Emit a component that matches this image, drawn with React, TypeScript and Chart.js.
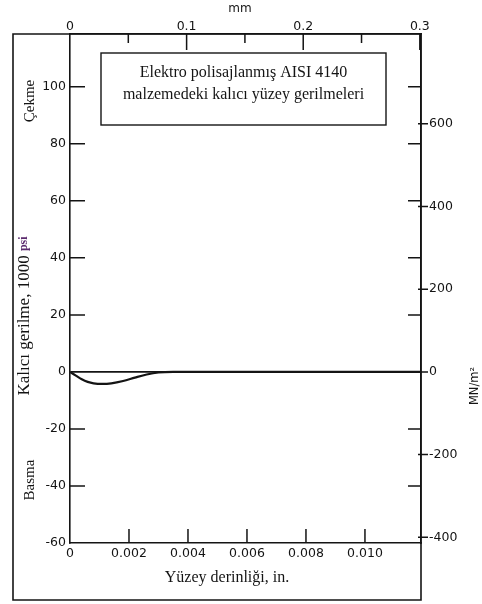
import React, { useEffect, useRef } from 'react';
import { Chart, registerables } from 'chart.js';

Chart.register(...registerables);

// Residual stress profile below an electropolished AISI 4140 surface
const depthIn = [0, 0.0002, 0.0004, 0.0006, 0.0008, 0.0011, 0.0014, 0.0018, 0.0022, 0.0026, 0.003, 0.0035, 0.006, 0.009, 0.0119];
const stressKsi = [0, -1.3, -2.6, -3.5, -4.0, -4.2, -4.0, -3.2, -2.0, -0.9, -0.2, 0, 0, 0, 0];

// Axis ranges and tick values
const X_MAX_IN = 0.0119;
const X_MAX_MM = 0.301;
const Y_MIN_KSI = -60;
const Y_MAX_KSI = 118.5;
const KSI_TO_MPA = 6.895;

const inTicks = [0, 0.002, 0.004, 0.006, 0.008, 0.01];
const inTickLabels = ['0', '0.002', '0.004', '0.006', '0.008', '0.010'];
const mmTicks = [0, 0.1, 0.2, 0.3];
const mmTickLabels = ['0', '0.1', '0.2', '0.3'];
const mmMinorTicks = [0.05, 0.15, 0.25];
const ksiTicks = [-60, -40, -20, 0, 20, 40, 60, 80, 100];
const mpaTicks = [-400, -200, 0, 200, 400, 600];

const INK = '#141414';
const SANS = '"DejaVu Sans", "Liberation Sans", sans-serif';
const SERIF = '"Liberation Serif", "DejaVu Serif", serif';

const decorPlugin = {
  id: 'decor',
  afterDraw(chart: any) {
    const { ctx, chartArea: a, scales } = chart;
    const x = scales.x, xTop = scales.xTop, y = scales.y, yR = scales.yR;
    ctx.save();
    ctx.strokeStyle = INK;
    ctx.fillStyle = INK;
    ctx.lineWidth = 1.6;

    // outer frame
    ctx.beginPath();
    ctx.moveTo(a.right, a.top);
    ctx.lineTo(13, a.top);
    ctx.lineTo(13, 600);
    ctx.lineTo(a.right, 600);
    ctx.lineTo(a.right, a.top);
    ctx.stroke();

    ctx.lineWidth = 1.5;
    ctx.beginPath();
    // bottom axis ticks (inward)
    inTicks.forEach((v) => {
      if (v === 0) return;
      const px = x.getPixelForValue(v);
      ctx.moveTo(px, a.bottom);
      ctx.lineTo(px, a.bottom - 14);
    });
    // top axis ticks (inward)
    mmTicks.forEach((v) => {
      if (v === 0) return;
      const px = xTop.getPixelForValue(v);
      ctx.moveTo(px, a.top);
      ctx.lineTo(px, a.top + 16);
    });
    mmMinorTicks.forEach((v) => {
      const px = xTop.getPixelForValue(v);
      ctx.moveTo(px, a.top);
      ctx.lineTo(px, a.top + 9);
    });
    // left and right inward ticks at ksi values
    ksiTicks.forEach((v) => {
      if (v === 0 || v === Y_MIN_KSI) return;
      const py = y.getPixelForValue(v);
      ctx.moveTo(a.left, py);
      ctx.lineTo(a.left + 15, py);
      ctx.moveTo(a.right, py);
      ctx.lineTo(a.right - 13, py);
    });
    // right axis MPa ticks crossing the axis
    mpaTicks.forEach((v) => {
      const py = yR.getPixelForValue(v);
      ctx.moveTo(a.right - 3, py);
      ctx.lineTo(a.right + 7, py);
    });
    ctx.stroke();

    // top axis unit
    ctx.font = `12px ${SANS}`;
    ctx.textAlign = 'center';
    ctx.textBaseline = 'middle';
    ctx.fillText('mm', 240, 9);

    // x axis title
    ctx.font = `16px ${SERIF}`;
    ctx.fillText('Yüzey derinliği, in.', 227, 578);

    // note box
    ctx.lineWidth = 1.4;
    ctx.strokeRect(101, 53, 285, 72);
    ctx.font = `16px ${SERIF}`;
    ctx.fillText('Elektro polisajlanmış AISI 4140', 243.5, 73);
    ctx.fillText('malzemedeki kalıcı yüzey gerilmeleri', 243.5, 95);

    // rotated side texts
    const rotated = (cx: number, cy: number, draw: () => void) => {
      ctx.save();
      ctx.translate(cx, cy);
      ctx.rotate(-Math.PI / 2);
      draw();
      ctx.restore();
    };
    rotated(30, 101, () => {
      ctx.font = `15px ${SERIF}`;
      ctx.textAlign = 'center';
      ctx.fillText('Çekme', 0, 0);
    });
    rotated(30, 480, () => {
      ctx.font = `15px ${SERIF}`;
      ctx.textAlign = 'center';
      ctx.fillText('Basma', 0, 0);
    });
    rotated(25, 316, () => {
      const main = 'Kalıcı gerilme, 1000 ';
      ctx.font = `17px ${SERIF}`;
      const w1 = ctx.measureText(main).width;
      ctx.font = `bold 12px ${SERIF}`;
      const w2 = ctx.measureText('psi').width;
      const start = -(w1 + w2) / 2;
      ctx.textAlign = 'left';
      ctx.font = `17px ${SERIF}`;
      ctx.fillStyle = INK;
      ctx.fillText(main, start, 0);
      ctx.font = `bold 12px ${SERIF}`;
      ctx.fillStyle = '#5b2a6e';
      ctx.fillText('psi', start + w1, -1);
    });
    rotated(475, 386, () => {
      ctx.font = `11.5px ${SANS}`;
      ctx.textAlign = 'center';
      ctx.fillStyle = INK;
      ctx.fillText('MN/m²', 0, 0);
    });
    ctx.restore();
  },
};

export default function App() {
  const ref = useRef<HTMLCanvasElement | null>(null);

  useEffect(() => {
    const canvas = ref.current;
    if (!canvas) return;
    const tickFont = { family: SANS, size: 12.5 };
    const chart = new Chart(canvas, {
      type: 'line',
      data: {
        datasets: [
          {
            data: depthIn.map((d, i) => ({ x: d, y: stressKsi[i] })),
            borderColor: INK,
            borderWidth: 2.2,
            pointRadius: 0,
            cubicInterpolationMode: 'monotone',
            xAxisID: 'x',
            yAxisID: 'y',
          },
        ],
      },
      options: {
        animation: false,
        responsive: false,
        maintainAspectRatio: false,
        layout: { padding: 0 },
        plugins: { legend: { display: false }, tooltip: { enabled: false } },
        scales: {
          x: {
            type: 'linear',
            position: 'bottom',
            min: 0,
            max: X_MAX_IN,
            afterBuildTicks: (s: any) => { s.ticks = inTicks.map((v) => ({ value: v })); },
            afterFit: (s: any) => { s.height = 61; },
            ticks: {
              autoSkip: false,
              maxRotation: 0,
              padding: 3,
              color: INK,
              font: tickFont,
              callback: (_v: any, i: number) => inTickLabels[i],
            },
            grid: { display: false, drawTicks: false },
            border: { display: true, color: INK, width: 1.6 },
          },
          xTop: {
            type: 'linear',
            position: 'top',
            min: 0,
            max: X_MAX_MM,
            afterBuildTicks: (s: any) => { s.ticks = mmTicks.map((v) => ({ value: v })); },
            afterFit: (s: any) => { s.height = 34; },
            ticks: {
              autoSkip: false,
              maxRotation: 0,
              padding: 0,
              color: INK,
              font: tickFont,
              callback: (_v: any, i: number) => mmTickLabels[i],
            },
            grid: { display: false, drawTicks: false },
            border: { display: true, color: INK, width: 1.6 },
          },
          y: {
            type: 'linear',
            position: 'left',
            min: Y_MIN_KSI,
            max: Y_MAX_KSI,
            afterBuildTicks: (s: any) => { s.ticks = ksiTicks.map((v) => ({ value: v })); },
            afterFit: (s: any) => { s.width = 70; },
            ticks: {
              autoSkip: false,
              padding: 4,
              color: INK,
              font: tickFont,
              callback: (v: any) => String(v),
            },
            grid: {
              drawTicks: false,
              lineWidth: 1.8,
              color: (c: any) => (c.tick && c.tick.value === 0 ? INK : 'rgba(0,0,0,0)'),
            },
            border: { display: true, color: INK, width: 1.6 },
          },
          yR: {
            type: 'linear',
            position: 'right',
            min: Y_MIN_KSI * KSI_TO_MPA,
            max: Y_MAX_KSI * KSI_TO_MPA,
            afterBuildTicks: (s: any) => { s.ticks = mpaTicks.map((v) => ({ value: v })); },
            afterFit: (s: any) => { s.width = 61; },
            ticks: {
              autoSkip: false,
              padding: 8,
              color: INK,
              font: tickFont,
              callback: (v: any) => String(v),
            },
            grid: { display: false, drawTicks: false },
            border: { display: true, color: INK, width: 1.6 },
          },
        },
      } as any,
      plugins: [decorPlugin],
    });
    return () => chart.destroy();
  }, []);

  return (
    <div style={{ position: 'absolute', left: 0, top: 0, width: 482, height: 604, background: '#fff' }}>
      <canvas ref={ref} width={482} height={604} style={{ display: 'block' }} />
    </div>
  );
}
